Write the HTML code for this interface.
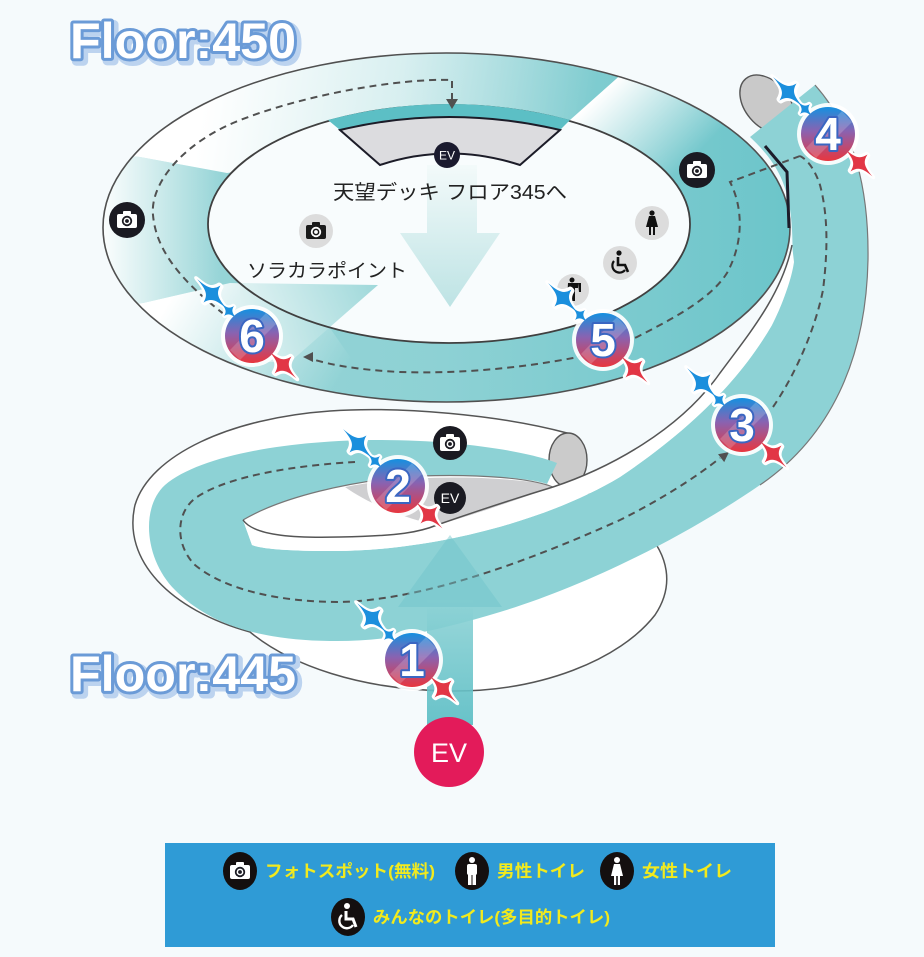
<!DOCTYPE html>
<html><head><meta charset="utf-8">
<style>
html,body{margin:0;padding:0;background:#f5fafc;}
svg{display:block;}
.jp{font-family:"Liberation Sans","Noto Sans CJK JP",sans-serif;}
.num{font-family:"Liberation Sans",sans-serif;font-weight:bold;font-size:46px;text-anchor:middle;}
</style></head><body>
<svg width="924" height="957" viewBox="0 0 924 957" xmlns="http://www.w3.org/2000/svg">
<defs>
 <clipPath id="ringClip"><path clip-rule="evenodd" d="M103,227.5 A343.5,174.5 0 1,0 790,227.5 A343.5,174.5 0 1,0 103,227.5 Z M208,224 A241,119 0 1,0 690,224 A241,119 0 1,0 208,224 Z"/></clipPath>
 <linearGradient id="gBase" gradientUnits="userSpaceOnUse" x1="100" y1="0" x2="790" y2="0">
  <stop offset="0" stop-color="#9ad6d8"/><stop offset="0.5" stop-color="#8dd1d4"/><stop offset="1" stop-color="#6cc5ca"/>
 </linearGradient>
 <linearGradient id="gA" gradientUnits="userSpaceOnUse" x1="220" y1="0" x2="600" y2="60">
  <stop offset="0" stop-color="#fff" stop-opacity="1"/><stop offset="0.5" stop-color="#fff" stop-opacity="0.65"/><stop offset="1" stop-color="#fff" stop-opacity="0"/>
 </linearGradient>
 <linearGradient id="gB" gradientUnits="userSpaceOnUse" x1="598" y1="96" x2="675" y2="175">
  <stop offset="0" stop-color="#fff" stop-opacity="1"/><stop offset="1" stop-color="#fff" stop-opacity="0"/>
 </linearGradient>
 <linearGradient id="gC" gradientUnits="userSpaceOnUse" x1="105" y1="0" x2="222" y2="0">
  <stop offset="0" stop-color="#fff" stop-opacity="0.95"/><stop offset="1" stop-color="#fff" stop-opacity="0"/>
 </linearGradient>
 <linearGradient id="gD" gradientUnits="userSpaceOnUse" x1="170" y1="300" x2="330" y2="395">
  <stop offset="0" stop-color="#fff" stop-opacity="1"/><stop offset="1" stop-color="#fff" stop-opacity="0"/>
 </linearGradient>
 <linearGradient id="gArrow" gradientUnits="userSpaceOnUse" x1="0" y1="165" x2="0" y2="307">
  <stop offset="0" stop-color="#f3fafa"/><stop offset="1" stop-color="#bde3e4"/>
 </linearGradient>
 <linearGradient id="gWedge" gradientUnits="userSpaceOnUse" x1="250" y1="340" x2="378" y2="285">
  <stop offset="0" stop-color="#e2f3f3"/><stop offset="1" stop-color="#8fd2d4"/>
 </linearGradient>
 <linearGradient id="gShaft" gradientUnits="userSpaceOnUse" x1="0" y1="600" x2="0" y2="725">
  <stop offset="0" stop-color="#8fd3d6"/><stop offset="1" stop-color="#58bcc3"/>
 </linearGradient>
 <linearGradient id="bgrad" x1="0" y1="0" x2="0" y2="1">
  <stop offset="0" stop-color="#1590e0"/><stop offset="0.45" stop-color="#8a62b0"/><stop offset="1" stop-color="#e8363e"/>
 </linearGradient>
 <path id="st" d="M0,-1 C0.1,-0.3 0.3,-0.1 1,0 C0.3,0.1 0.1,0.3 0,1 C-0.1,0.3 -0.3,0.1 -1,0 C-0.3,-0.1 -0.1,-0.3 0,-1 Z"/>
 <g id="bb">
  <use href="#st" transform="translate(-40,-42) rotate(45) scale(21,12)" fill="#fff" stroke="#fff" stroke-width="0.35" stroke-linejoin="round"/>
  <use href="#st" transform="translate(-23,-25) rotate(45) scale(11,7)" fill="#fff" stroke="#fff" stroke-width="0.5" stroke-linejoin="round"/>
  <use href="#st" transform="translate(31,29) rotate(45) scale(19,12)" fill="#fff" stroke="#fff" stroke-width="0.35" stroke-linejoin="round"/>
  <circle r="31" fill="#fff" opacity="0.92"/>
  <use href="#st" transform="translate(-40,-42) rotate(45) scale(21,12)" fill="#1b8fdd"/>
  <use href="#st" transform="translate(-23,-25) rotate(45) scale(11,7)" fill="#1b8fdd"/>
  <use href="#st" transform="translate(31,29) rotate(45) scale(19,12)" fill="#e23645"/>
  <circle r="27" fill="url(#bgrad)"/>
  <path d="M14,-23 L24,-12 L-12,24 L-22,14Z" fill="#fff" opacity="0.18"/>
 </g>
 <g id="camW">
  <rect x="-10" y="-6" width="20" height="14" rx="2" fill="#fff"/>
  <rect x="-4" y="-9" width="8" height="4" rx="1" fill="#fff"/>
  <circle cx="0" cy="1" r="5.2" fill="#1a1a22"/>
  <circle cx="0" cy="1" r="3.4" fill="#fff"/>
  <circle cx="0" cy="1" r="1.9" fill="#1a1a22"/>
 </g>
 <g id="camB">
  <rect x="-10" y="-6" width="20" height="14" rx="2" fill="#1a1a1a"/>
  <rect x="-4" y="-9" width="8" height="4" rx="1" fill="#1a1a1a"/>
  <circle cx="0" cy="1" r="5.2" fill="#fff"/>
  <circle cx="0" cy="1" r="3.4" fill="#1a1a1a"/>
  <circle cx="0" cy="1" r="1.9" fill="#fff"/>
 </g>
</defs>

<rect width="924" height="957" fill="#f5fafc"/>

<!-- ===== Lower ring body ===== -->
<path d="M567,433 C500,415 400,406 330,411 C230,418 150,455 135,505 C122,560 170,610 250,632 C290,665 360,690 450,691 C540,692 620,660 655,615 C675,585 668,555 645,530 C625,510 600,495 567,487 Z" fill="#fff" stroke="#555" stroke-width="1.5"/>
<ellipse cx="568" cy="460" rx="19" ry="27" fill="#cbcbcb" stroke="#555" stroke-width="1.4"/>

<!-- rising tube top cap -->
<ellipse cx="767" cy="104" rx="22" ry="33" transform="rotate(-40 767 104)" fill="#c9c9c9" stroke="#555" stroke-width="1.4"/>

<!-- ===== Teal blob (lower loop + rising tube) ===== -->
<path d="M557,463 C530,452 460,440 380,440 C290,440 200,455 165,485 C140,508 145,560 175,590 C205,620 250,640 330,641 C390,642 440,630 500,612 C580,588 680,540 760,485 C830,437 866,360 868,260 C869,190 855,130 815,85 L750,137 C772,158 790,180 792,230 C794,265 790,290 772,325 C740,380 690,430 620,477 C540,525 420,552 330,551 C290,551 262,549 252,545 L243,520 C280,498 350,480 420,476 C480,474 530,478 547,484 Z" fill="#8dd2d5"/>
<path d="M815,85 C855,130 869,190 868,260 C866,360 830,437 760,485" fill="none" stroke="#777" stroke-width="1.2"/>

<!-- white strip / hole -->
<path d="M243,520 C280,498 350,480 420,476 C480,474 530,478 553,487 C610,468 680,430 720,373 C748,335 782,295 792,245 L794,262 C790,290 772,325 772,325 C740,380 690,430 620,477 C540,525 420,552 330,551 C290,551 262,549 252,545 Z" fill="#fff"/>
<path d="M345,487 C400,476 480,474 547,484 L553,487 C510,502 470,516 437,525 C410,520 370,505 345,487 Z" fill="#cfcfd1"/>
<path d="M243,520 C280,498 350,480 420,476 C480,474 530,478 553,487" fill="none" stroke="#777" stroke-width="1.2"/>
<path d="M243,520 C255,537 300,538 340,537 C400,536 420,532 437,525 C480,510 520,497 553,487 C610,468 680,430 720,373 C748,335 782,295 792,245" fill="none" stroke="#555" stroke-width="1.5"/>

<!-- ===== Upper ring ===== -->
<ellipse cx="449" cy="224" rx="241" ry="119" fill="#f8fcfd"/>
<path fill-rule="evenodd" d="M103,227.5 A343.5,174.5 0 1,0 790,227.5 A343.5,174.5 0 1,0 103,227.5 Z M208,224 A241,119 0 1,0 690,224 A241,119 0 1,0 208,224 Z" fill="url(#gBase)"/>
<g clip-path="url(#ringClip)">
 <polygon points="60,30 671,30 570,120 227,173 140,157 60,150" fill="url(#gA)"/>
 <polygon points="671,30 570,120 540,180 620,300 900,300 900,30" fill="url(#gB)"/>
 <polygon points="60,150 140,157 227,173 240,175 240,285 230,283 143,303 60,310" fill="url(#gC)"/>
 <polygon points="60,310 143,303 230,283 300,285 380,400 60,420" fill="url(#gD)"/>
</g>
<!-- light beams inside -->
<path d="M427,165 L477,165 L477,233 L500,233 L450,307 L400,233 L427,233 Z" fill="url(#gArrow)"/>
<polygon points="240,283 378,285 290,362 240,362" fill="url(#gWedge)" opacity="0.85"/>

<ellipse cx="446.5" cy="227.5" rx="343.5" ry="174.5" fill="none" stroke="#505050" stroke-width="1.6"/>
<ellipse cx="449" cy="224" rx="241" ry="119" fill="none" stroke="#404040" stroke-width="1.8"/>

<!-- EV deck -->
<path d="M328,120 Q449,88 570,120 L560,130 Q449,104 340,130 Z" fill="#5cbfc5"/>
<path d="M340,130 Q449,104 560,130 L520,165 Q449,142 380,165 Z" fill="#dcdcdf" stroke="#1c1c28" stroke-width="2" stroke-linejoin="miter"/>
<circle cx="447" cy="155" r="13" fill="#1a1a2e"/>
<text x="447" y="159.5" font-family="Liberation Sans,sans-serif" font-size="12" fill="#fff" text-anchor="middle">EV</text>

<!-- hook -->
<path d="M765,146 L787,172 L789,228" fill="none" stroke="#1c1c2a" stroke-width="3"/>

<!-- ===== Dashed routes ===== -->
<g fill="none" stroke="#505050" stroke-width="2" stroke-dasharray="7 5">
 <path d="M452,100 L452,80 C400,78 300,95 233,123 C180,146 150,185 153,215 C156,250 180,280 225,315"/>
 <path d="M800,156 L730,182 C742,205 745,240 727,273 C710,300 670,320 637,337 C610,348 590,355 573,358 C520,368 460,374 400,372 C360,370 330,365 312,359"/>
 <path d="M355,462 C300,465 230,475 197,497 C175,512 175,545 195,565 C225,590 280,602 340,602 C420,600 520,565 620,520 C660,500 695,478 720,458"/>
 <path d="M773,407 C795,375 815,330 823,290 C828,250 828,215 820,185 C815,170 808,160 800,156"/>
</g>
<g fill="#505050">
 <polygon points="446,99 458,99 452,109"/>
 <polygon points="303,357 313,352 313,362"/>
 <polygon points="0,0 -10,-5 -10,5" transform="translate(729,452) rotate(-38)"/>
</g>

<!-- ===== EV up arrow ===== -->
<rect x="427" y="600" width="46" height="125" fill="url(#gShaft)" opacity="0.9"/>
<polygon points="398,607 502,607 450,535" fill="#6ec4c9" opacity="0.45"/>
<circle cx="449" cy="752" r="35" fill="#e31b5a"/>
<text x="449" y="762" font-family="Liberation Sans,sans-serif" font-size="27" fill="#fff" text-anchor="middle">EV</text>

<!-- ===== icons on map ===== -->
<circle cx="127" cy="220" r="18" fill="#1a1a22"/><use href="#camW" x="127" y="220"/>
<circle cx="697" cy="170" r="18" fill="#1a1a22"/><use href="#camW" x="697" y="170"/>
<circle cx="450" cy="443" r="17" fill="#1a1a22"/><use href="#camW" x="450" y="443"/>
<circle cx="450" cy="498" r="16" fill="#1a1a22"/>
<text x="450" y="503" font-family="Liberation Sans,sans-serif" font-size="14" fill="#fff" text-anchor="middle">EV</text>
<circle cx="316" cy="231" r="17" fill="#dcdcdc"/><use href="#camB" x="316" y="231"/>

<circle cx="652" cy="223" r="17" fill="#dcdcdc"/>
<g transform="translate(652,223)" fill="#111">
 <circle cx="0" cy="-10" r="2.6"/>
 <path d="M-3,-7 L3,-7 L6,4 L-6,4 Z"/>
 <rect x="-3" y="4" width="2" height="8"/><rect x="1" y="4" width="2" height="8"/>
</g>
<circle cx="620" cy="263" r="17" fill="#dcdcdc"/>
<g transform="translate(620,263)">
 <circle cx="-1" cy="-10" r="2.6" fill="#111"/>
 <path d="M-2,-6 L-2,2 L5,2 L8,9" fill="none" stroke="#111" stroke-width="2.6"/>
 <path d="M-6,-2 A7,7 0 1,0 5,7" fill="none" stroke="#111" stroke-width="2.2"/>
</g>
<circle cx="573" cy="290" r="16" fill="#dcdcdc"/>
<g transform="translate(573,290)" fill="#111">
 <circle cx="-1" cy="-10" r="2.5"/>
 <path d="M-5,-7 L5,-7 L5,-2 L2,-2 L2,11 L-1,11 L-1,2 L-4,2 L-4,11 L-6,11 Z"/>
 <path d="M5,-7 L8,-7 L8,2 L6,2 Z"/>
</g>

<!-- texts -->
<text class="jp" x="450" y="199" font-size="20" fill="#222" text-anchor="middle" textLength="234" lengthAdjust="spacingAndGlyphs">天望デッキ フロア345へ</text>
<text class="jp" x="327" y="277" font-size="19" fill="#222" text-anchor="middle" textLength="160" lengthAdjust="spacingAndGlyphs">ソラカラポイント</text>

<!-- titles -->
<g font-family="Liberation Sans,sans-serif" font-weight="bold" font-size="50" stroke-linejoin="round">
 <text x="73" y="61" fill="#bcd3ef" stroke="#bcd3ef" stroke-width="9" textLength="226" lengthAdjust="spacingAndGlyphs">Floor:450</text>
 <text x="70" y="58" fill="#fff" stroke="#6b9bd7" stroke-width="6" paint-order="stroke" textLength="226" lengthAdjust="spacingAndGlyphs">Floor:450</text>
 <text x="73" y="694" fill="#bcd3ef" stroke="#bcd3ef" stroke-width="9" textLength="226" lengthAdjust="spacingAndGlyphs">Floor:445</text>
 <text x="70" y="691" fill="#fff" stroke="#6b9bd7" stroke-width="6" paint-order="stroke" textLength="226" lengthAdjust="spacingAndGlyphs">Floor:445</text>
</g>

<!-- ===== badges ===== -->
<use href="#bb" x="412" y="660"/>
<use href="#bb" x="398" y="486"/>
<use href="#bb" x="742" y="425"/>
<use href="#bb" x="828" y="134"/>
<use href="#bb" x="603" y="340"/>
<use href="#bb" x="252" y="336"/>
<g class="num" fill="#fff" stroke="#3a66c2" stroke-width="4" paint-order="stroke" stroke-linejoin="round">
 <text x="412" y="676">1</text>
 <text x="398" y="502">2</text>
 <text x="742" y="441">3</text>
 <text x="828" y="150">4</text>
 <text x="603" y="356">5</text>
 <text x="252" y="352">6</text>
</g>

<!-- ===== Legend ===== -->
<rect x="165" y="843" width="610" height="104" fill="#2f9bd6"/>
<ellipse cx="240" cy="871" rx="17" ry="19" fill="#140f0f"/><use href="#camW" x="240" y="871"/>
<ellipse cx="472" cy="871" rx="17" ry="19" fill="#140f0f"/>
<g transform="translate(472,871)" fill="#fff">
 <circle cx="0" cy="-11" r="3"/>
 <rect x="-5" y="-7" width="10" height="11" rx="2"/>
 <rect x="-4" y="3" width="3.5" height="11"/><rect x="0.5" y="3" width="3.5" height="11"/>
</g>
<ellipse cx="617" cy="871" rx="17" ry="19" fill="#140f0f"/>
<g transform="translate(617,871)" fill="#fff">
 <circle cx="0" cy="-11" r="3"/>
 <path d="M-3,-7 L3,-7 L6,5 L-6,5 Z"/>
 <rect x="-3" y="5" width="2.2" height="9"/><rect x="0.8" y="5" width="2.2" height="9"/>
</g>
<ellipse cx="348" cy="917" rx="17" ry="19" fill="#140f0f"/>
<g transform="translate(348,917)">
 <circle cx="-1" cy="-11" r="3" fill="#fff"/>
 <path d="M-2,-6 L-2,2 L5,2 L8,10" fill="none" stroke="#fff" stroke-width="3"/>
 <path d="M-6,-2 A7.5,7.5 0 1,0 5,8" fill="none" stroke="#fff" stroke-width="2.4"/>
</g>
<g class="jp" font-size="17" font-weight="bold" fill="#f2ea1d">
 <text x="265" y="877" textLength="170" lengthAdjust="spacingAndGlyphs">フォトスポット(無料)</text>
 <text x="497" y="877" textLength="88" lengthAdjust="spacingAndGlyphs">男性トイレ</text>
 <text x="642" y="877" textLength="90" lengthAdjust="spacingAndGlyphs">女性トイレ</text>
 <text x="373" y="923" textLength="237" lengthAdjust="spacingAndGlyphs">みんなのトイレ(多目的トイレ)</text>
</g>
</svg>
</body></html>
